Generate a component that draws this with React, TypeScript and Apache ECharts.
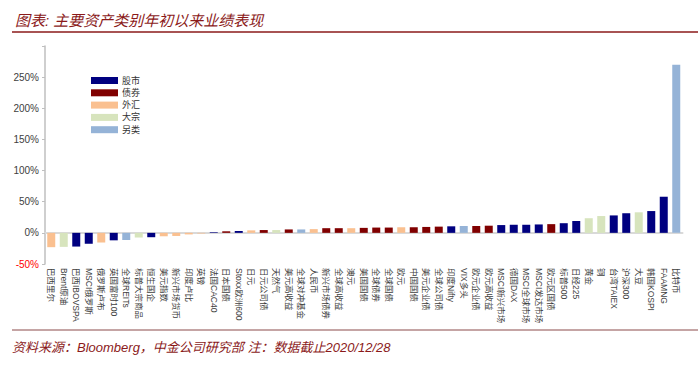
import React, { useEffect, useRef } from "react";
import * as echarts from "echarts";

const categories = [
  "巴西里尔", "Brent原油", "巴西IBOVSPA", "MSCI俄罗斯", "俄罗斯卢布", "英国富时100", "全球REITs",
  "标普大宗商品", "恒生国企", "美元指数", "新兴市场货币", "印度卢比", "英镑", "法国CAC40", "日本国债",
  "Stoxx欧洲600", "日元", "日元公司债", "天然气", "美元高收益", "全球对冲基金", "人民币", "新兴市场债券",
  "全球高收益", "澳元", "美国国债", "全球债券", "全球国债", "欧元", "中国国债", "美元企业债", "全球公司债",
  "印度Nifty", "VIX多头", "欧元企业债", "欧元高收益", "MSCI新兴市场", "德国DAX", "MSCI全球市场",
  "MSCI发达市场", "欧元区国债", "标普500", "日经225", "黄金", "铜", "台湾TAIEX", "沪深300", "大豆",
  "韩国KOSPI", "FAAMNG", "比特币",
];

const values = [
  -23, -22.5, -22, -17.5, -15.5, -12, -11.5, -7.5, -7, -5.5, -5, -2.5, -1, 1, 2.5,
  3, 4, 4.5, 4.5, 5.5, 5.5, 6, 7.5, 7.5, 7.5, 8, 8.5, 8.5, 9, 9, 9.5, 10,
  10.5, 11, 11, 11.5, 12.5, 13, 13, 13.5, 14, 15.5, 19, 23.5, 27, 28, 31.5, 33,
  35, 58, 270,
];

const groups = [
  "外汇", "大宗", "股市", "股市", "外汇", "股市", "另类", "大宗", "股市", "外汇", "外汇", "外汇", "外汇", "股市", "债券",
  "股市", "外汇", "债券", "大宗", "债券", "另类", "外汇", "债券", "债券", "外汇", "债券", "债券", "债券", "外汇", "债券", "债券", "债券",
  "股市", "另类", "债券", "债券", "股市", "股市", "股市", "股市", "债券", "股市", "股市", "大宗", "大宗", "股市", "股市", "大宗",
  "股市", "股市", "另类",
];

const groupNames = ["股市", "债券", "外汇", "大宗", "另类"];
const groupColors = ["#000080", "#800000", "#FAC090", "#D7E4BD", "#95B3D7"];

const yTicks = { min: -50, max: 300, interval: 50 };

const FONT = '"Liberation Sans", "Noto Sans CJK SC", sans-serif';
const DARKRED = "#8B1A1A";

export default function App() {
  const ref = useRef<HTMLDivElement>(null);
  useEffect(() => {
    if (!ref.current) return;
    const chart = echarts.init(ref.current, null, { renderer: "svg" });
    const series = groupNames.map((g, gi) => ({
      name: g,
      type: "bar",
      barWidth: 8,
      barGap: "-100%",
      itemStyle: { color: groupColors[gi] },
      data: values.map((v, i) => (groups[i] === g ? v : "-")),
    }));
    chart.setOption({
      animation: false,
      textStyle: { fontFamily: FONT },
      title: {
        text: "图表: 主要资产类别年初以来业绩表现",
        left: 10,
        top: 8,
        textStyle: { fontSize: 15, fontStyle: "italic", fontWeight: "normal", color: DARKRED, fontFamily: FONT },
      },
      legend: {
        orient: "vertical",
        left: 86,
        top: 71,
        itemWidth: 27,
        itemHeight: 7,
        itemGap: 3.3,
        icon: "rect",
        data: groupNames,
        textStyle: { fontSize: 9, color: "#333", padding: [0, 0, 0, -1] },
      },
      grid: { left: 45, right: 15.5, top: 46, bottom: 106 },
      xAxis: [
        {
          type: "category",
          data: categories,
          position: "bottom",
          axisLine: { show: false, onZero: false },
          axisTick: { show: false },
          axisLabel: { interval: 0, rotate: -90, fontSize: 8.5, color: "#404040", margin: 4 },
        },
        {
          type: "category",
          data: categories,
          position: "bottom",
          axisLine: { show: true, onZero: true, lineStyle: { color: "#D9D9D9", width: 2 } },
          axisTick: { show: false },
          axisLabel: { show: false },
        },
      ],
      yAxis: {
        type: "value",
        min: yTicks.min,
        max: yTicks.max,
        interval: yTicks.interval,
        splitLine: { show: false },
        axisLine: { show: true, lineStyle: { color: "#BFBFBF", width: 1.5 } },
        axisTick: { show: true, length: 3, lineStyle: { color: "#BFBFBF" } },
        axisLabel: {
          formatter: (v: number) => (v >= yTicks.max ? "" : `${v}%`),
          fontSize: 10,
          margin: 6,
          color: (v: any) => (Number(v) < 0 ? "#FF0000" : "#404040"),
        },
      },
      graphic: [
        { type: "line", shape: { x1: 12, y1: 32, x2: 698, y2: 32 }, style: { stroke: DARKRED, lineWidth: 1.5 } },
        { type: "line", shape: { x1: 12, y1: 330, x2: 698, y2: 330 }, style: { stroke: "#8B4A4A", lineWidth: 1 } },
        {
          type: "text",
          left: 12,
          top: 341,
          style: {
            text: "资料来源：Bloomberg，中金公司研究部 注：数据截止2020/12/28",
            font: `italic 13px ${FONT}`,
            fill: DARKRED,
          },
        },
      ],
      series,
    });
    return () => chart.dispose();
  }, []);
  return <div ref={ref} style={{ width: 698, height: 370, position: "absolute", left: 0, top: 0 }} />;
}
